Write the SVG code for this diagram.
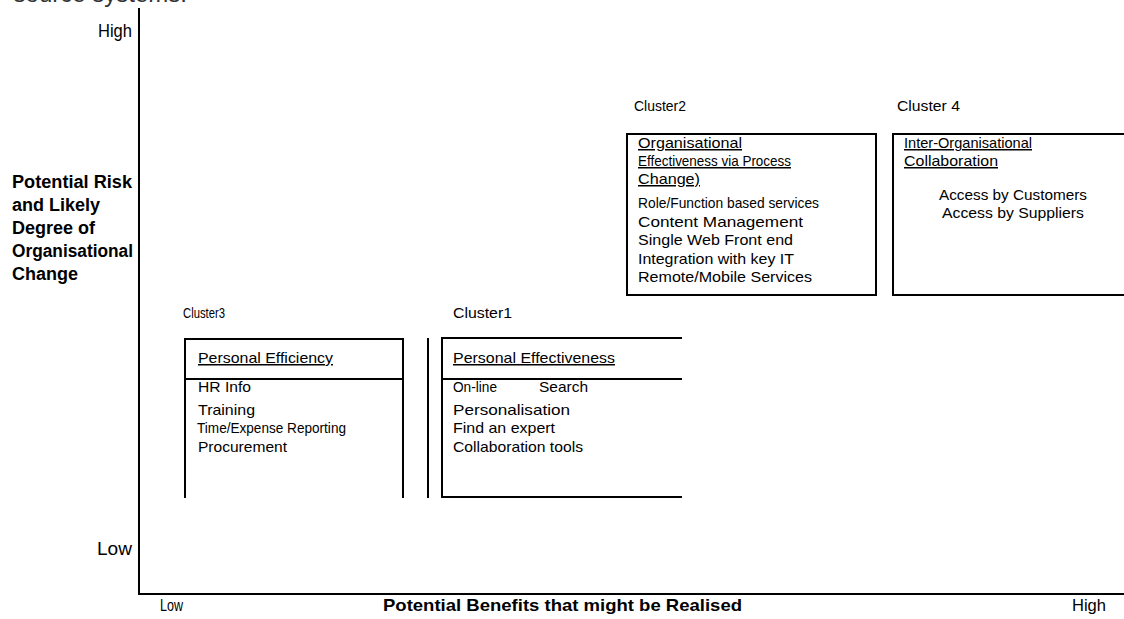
<svg xmlns="http://www.w3.org/2000/svg" width="1124" height="619" viewBox="0 0 1124 619">
<style>
text{font-family:"Liberation Sans",Arial,sans-serif;fill:#000;font-size:15px}
.b{font-weight:bold}
.ax{font-size:18px;font-weight:bold}
.u{text-decoration:underline}
.lbl{font-size:14px}
.ln{stroke:#000;stroke-width:2;fill:none}
.axis{stroke:#000;stroke-width:2;fill:none}
</style>
<rect width="1124" height="619" fill="#fff"/>
<text x="187" y="2" text-anchor="end" style="fill:#333;font-size:24px">source systems.</text>
<g id="axes">
<line class="axis" x1="139" y1="8" x2="139" y2="595"/>
<line class="axis" x1="138" y1="594" x2="1124" y2="594"/>
<text x="98" y="37" textLength="34" lengthAdjust="spacingAndGlyphs" style="font-size:18px">High</text>
<text x="97" y="555" textLength="35" lengthAdjust="spacingAndGlyphs" style="font-size:18px">Low</text>
<text class="ax" x="12" y="188" textLength="120" lengthAdjust="spacingAndGlyphs">Potential Risk</text>
<text class="ax" x="12" y="211">and Likely</text>
<text class="ax" x="12" y="234">Degree of</text>
<text class="ax" x="12" y="257" textLength="121" lengthAdjust="spacingAndGlyphs">Organisational</text>
<text class="ax" x="12" y="280">Change</text>
<text x="160" y="611" textLength="23" lengthAdjust="spacingAndGlyphs" style="font-size:17px">Low</text>
<text class="b" x="383" y="611" textLength="359" lengthAdjust="spacingAndGlyphs" style="font-size:17px">Potential Benefits that might be Realised</text>
<text x="1072" y="611" textLength="34" lengthAdjust="spacingAndGlyphs" style="font-size:17px">High</text>
</g>
<g id="connectors"></g>
<g id="cluster3">
<text class="lbl" x="183" y="318" textLength="42" lengthAdjust="spacingAndGlyphs">Cluster3</text>
<path class="ln" d="M185,498 V339 H403 V498 M185,379 H403"/>
<text class="u" x="198" y="363" textLength="135" lengthAdjust="spacingAndGlyphs">Personal Efficiency</text>
<text x="198" y="392" textLength="53" lengthAdjust="spacingAndGlyphs">HR Info</text>
<text x="198" y="415" textLength="57" lengthAdjust="spacingAndGlyphs">Training</text>
<text x="197" y="433" textLength="149" lengthAdjust="spacingAndGlyphs">Time/Expense Reporting</text>
<text x="198" y="452" textLength="89" lengthAdjust="spacingAndGlyphs">Procurement</text>
</g>
<g id="divider">
<line class="ln" x1="428" y1="338" x2="428" y2="498"/>
</g>
<g id="cluster1">
<text class="lbl" x="453" y="318" textLength="59" lengthAdjust="spacingAndGlyphs">Cluster1</text>
<path class="ln" d="M682,338 H442 V497 H682 M442,379 H682"/>
<text class="u" x="453" y="363" textLength="162" lengthAdjust="spacingAndGlyphs">Personal Effectiveness</text>
<text x="453" y="392" textLength="44" lengthAdjust="spacingAndGlyphs">On-line</text>
<text x="539" y="392" textLength="49" lengthAdjust="spacingAndGlyphs">Search</text>
<text x="453" y="415" textLength="117" lengthAdjust="spacingAndGlyphs">Personalisation</text>
<text x="453" y="433" textLength="102" lengthAdjust="spacingAndGlyphs">Find an expert</text>
<text x="453" y="452" textLength="130" lengthAdjust="spacingAndGlyphs">Collaboration tools</text>
</g>
<g id="cluster2">
<text class="lbl" x="634" y="111" textLength="52" lengthAdjust="spacingAndGlyphs">Cluster2</text>
<rect class="ln" x="627" y="134" width="249" height="161"/>
<text class="u" x="638" y="148" textLength="104" lengthAdjust="spacingAndGlyphs">Organisational</text>
<text class="u" x="638" y="166" textLength="153" lengthAdjust="spacingAndGlyphs">Effectiveness via Process</text>
<text class="u" x="638" y="184" textLength="62" lengthAdjust="spacingAndGlyphs">Change)</text>
<text x="638" y="208" textLength="181" lengthAdjust="spacingAndGlyphs">Role/Function based services</text>
<text x="638" y="227" textLength="165" lengthAdjust="spacingAndGlyphs">Content Management</text>
<text x="638" y="245" textLength="155" lengthAdjust="spacingAndGlyphs">Single Web Front end</text>
<text x="638" y="264" textLength="156" lengthAdjust="spacingAndGlyphs">Integration with key IT</text>
<text x="638" y="282" textLength="174" lengthAdjust="spacingAndGlyphs">Remote/Mobile Services</text>
</g>
<g id="cluster4">
<text class="lbl" x="897" y="111" textLength="63" lengthAdjust="spacingAndGlyphs">Cluster 4</text>
<path class="ln" d="M1126,134 H893 V295 H1126"/>
<text class="u" x="904" y="148" textLength="128" lengthAdjust="spacingAndGlyphs">Inter-Organisational</text>
<text class="u" x="904" y="166" textLength="94" lengthAdjust="spacingAndGlyphs">Collaboration</text>
<text x="1013" y="200" text-anchor="middle" textLength="148" lengthAdjust="spacingAndGlyphs">Access by Customers</text>
<text x="1013" y="218" text-anchor="middle" textLength="142" lengthAdjust="spacingAndGlyphs">Access by Suppliers</text>
</g>
</svg>
